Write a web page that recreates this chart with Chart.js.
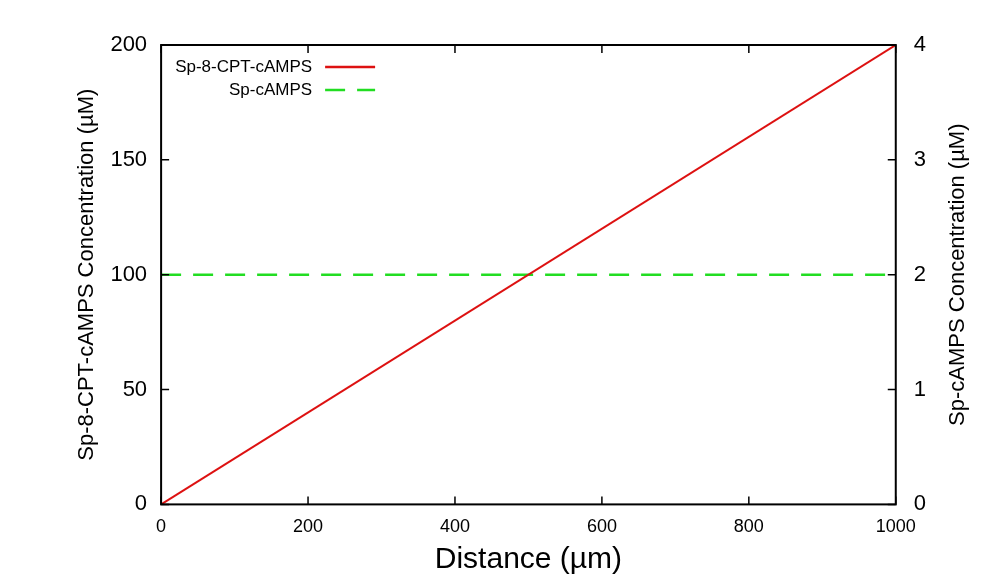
<!DOCTYPE html>
<html>
<head>
<script src="https://cdn.jsdelivr.net/npm/chart.js@4"></script>
<style>
  body { margin: 0; background: #fff; }
  #wrap { width: 1004px; height: 584px; }
</style>
</head>
<body>
<div id="wrap"><canvas id="chart"></canvas></div>
<script>
const distance = [0, 1000];
const cptValues = [0, 200];
const spValues = [2, 2];
const seriesNames = ["Sp-8-CPT-cAMPS", "Sp-cAMPS"];
const xTicks = [0, 200, 400, 600, 800, 1000];
const leftTicks = [0, 50, 100, 150, 200];
const rightTicks = [0, 1, 2, 3, 4];
const rightTitle = "Sp-cAMPS Concentration (µM)";

const font = "'Liberation Sans', Arial, sans-serif";

// gnuplot-style frame with inward ticks + legend + right title
const framePlugin = {
  id: "frame",
  afterDatasetsDraw(chart) {
    const { ctx, chartArea: a, scales } = chart;
    ctx.save();
    ctx.strokeStyle = "#000";
    ctx.lineWidth = 2;
    ctx.strokeRect(a.left, a.top, a.right - a.left, a.bottom - a.top);
    ctx.lineWidth = 1.5;
    const len = 8;
    ctx.beginPath();
    xTicks.forEach(v => {
      const px = scales.x.getPixelForValue(v);
      ctx.moveTo(px, a.bottom); ctx.lineTo(px, a.bottom - len);
      ctx.moveTo(px, a.top); ctx.lineTo(px, a.top + len);
    });
    leftTicks.forEach(v => {
      const py = scales.y.getPixelForValue(v);
      ctx.moveTo(a.left, py); ctx.lineTo(a.left + len, py);
    });
    rightTicks.forEach(v => {
      const py = scales.y1.getPixelForValue(v);
      ctx.moveTo(a.right, py); ctx.lineTo(a.right - len, py);
    });
    ctx.stroke();

    // legend
    ctx.font = "17px " + font;
    ctx.textAlign = "right";
    ctx.textBaseline = "middle";
    ctx.fillStyle = "#000";
    chart.data.datasets.forEach((ds, i) => {
      const y = a.top + 22 + i * 23;
      ctx.fillText(ds.label, a.left + 151, y);
      ctx.strokeStyle = ds.borderColor;
      ctx.lineWidth = 2.5;
      ctx.setLineDash(ds.borderDash || []);
      ctx.beginPath();
      ctx.moveTo(a.left + 164, y); ctx.lineTo(a.left + 214, y);
      ctx.stroke();
    });

    // right axis title, reading bottom to top
    ctx.setLineDash([]);
    ctx.translate(a.right + 62, (a.top + a.bottom) / 2);
    ctx.rotate(-Math.PI / 2);
    ctx.textAlign = "center";
    ctx.font = "22px " + font;
    ctx.fillText(rightTitle, 0, 0);
    ctx.restore();
  }
};

new Chart(document.getElementById("chart"), {
  type: "line",
  plugins: [framePlugin],
  data: {
    datasets: [
      { label: seriesNames[0], data: distance.map((d, i) => ({ x: d, y: cptValues[i] })),
        borderColor: "#dd1111", borderWidth: 2, pointRadius: 0, yAxisID: "y" },
      { label: seriesNames[1], data: distance.map((d, i) => ({ x: d, y: spValues[i] })),
        borderColor: "#22dd22", borderWidth: 2.5, borderDash: [20, 12], pointRadius: 0, yAxisID: "y1" }
    ]
  },
  options: {
    responsive: true,
    maintainAspectRatio: false,
    animation: false,
    layout: { padding: { top: 45, left: 70, right: 68, bottom: 6 } },
    plugins: { legend: { display: false }, tooltip: { enabled: false } },
    scales: {
      x: {
        type: "linear", min: 0, max: 1000,
        afterBuildTicks: s => { s.ticks = xTicks.map(v => ({ value: v })); },
        grid: { display: false }, border: { display: false },
        ticks: { color: "#000", font: { family: font, size: 18 }, maxRotation: 0, padding: 4, callback: v => String(v) },
        title: { display: true, text: "Distance (µm)", color: "#000", font: { family: font, size: 30 }, padding: 0 }
      },
      y: {
        type: "linear", position: "left", min: 0, max: 200,
        afterBuildTicks: s => { s.ticks = leftTicks.map(v => ({ value: v })); },
        grid: { display: false }, border: { display: false },
        ticks: { color: "#000", font: { family: font, size: 22 }, padding: 6 },
        title: { display: true, text: "Sp-8-CPT-cAMPS Concentration (µM)", color: "#000", font: { family: font, size: 22 }, padding: 4 }
      },
      y1: {
        type: "linear", position: "right", min: 0, max: 4,
        afterBuildTicks: s => { s.ticks = rightTicks.map(v => ({ value: v })); },
        grid: { display: false }, border: { display: false },
        ticks: { color: "#000", font: { family: font, size: 22 }, padding: 10 },
        title: { display: false }
      }
    }
  }
});
</script>
</body>
</html>
